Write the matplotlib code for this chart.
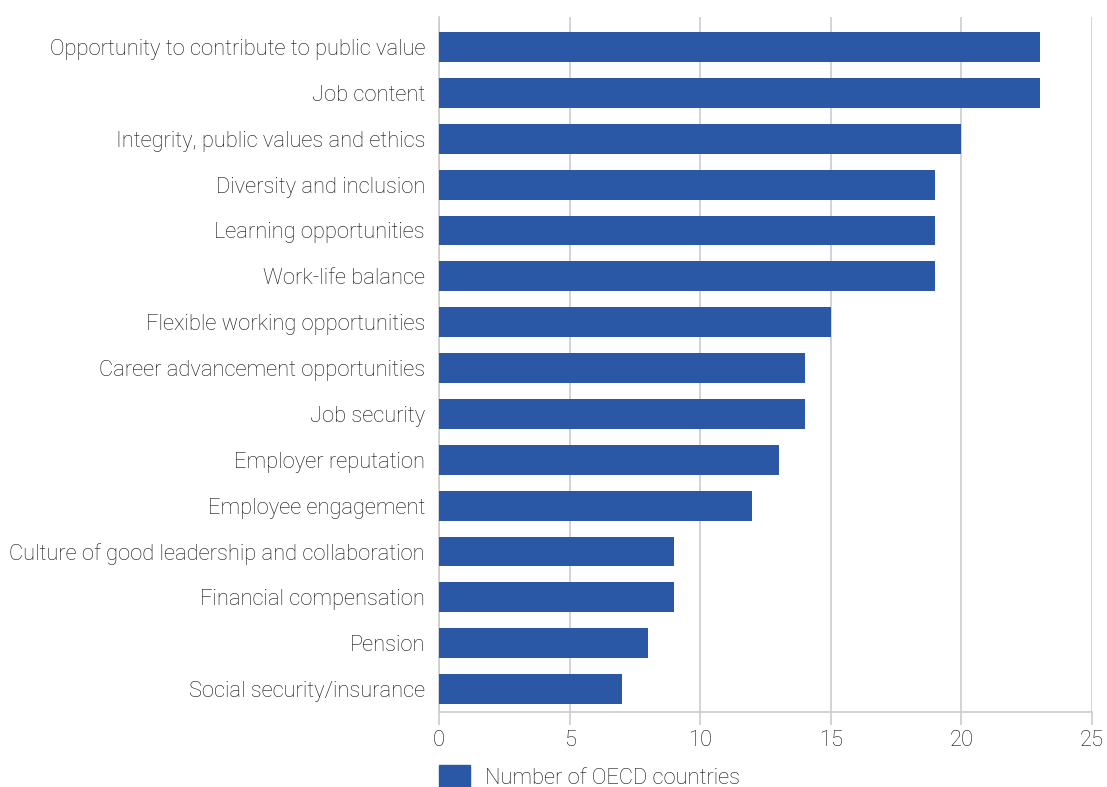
import matplotlib
matplotlib.use("Agg")
import matplotlib.pyplot as plt
from matplotlib.patches import Patch

plt.rcParams["font.family"] = ["Roboto", "DejaVu Sans"]
plt.rcParams["font.weight"] = "light"

categories = [
    "Opportunity to contribute to public value",
    "Job content",
    "Integrity, public values and ethics",
    "Diversity and inclusion",
    "Learning opportunities",
    "Work-life balance",
    "Flexible working opportunities",
    "Career advancement opportunities",
    "Job security",
    "Employer reputation",
    "Employee engagement",
    "Culture of good leadership and collaboration",
    "Financial compensation",
    "Pension",
    "Social security/insurance",
]
values = [23, 23, 20, 19, 19, 19, 15, 14, 14, 13, 12, 9, 9, 8, 7]
series_label = "Number of OECD countries"
x_ticks = [0, 5, 10, 15, 20, 25]

BAR = "#2a58a6"
GRID = "#cccccc"
TXT = "#111111"
FS = 15.75

fig = plt.figure(figsize=(11.07, 7.87), dpi=100)
ax = fig.add_axes([439 / 1107, 1 - 712 / 787, (1092 - 439) / 1107, (712 - 17) / 787])

y = list(range(len(categories)))
ax.barh(y, values, height=0.65, color=BAR, zorder=3)
ax.set_ylim(len(categories) - 0.5, -0.655)
ax.set_xlim(0, 25)

ax.set_yticks(y)
ax.set_yticklabels(categories, fontsize=FS, color=TXT)
ax.set_xticks(x_ticks)
ax.set_xticklabels([str(t) for t in x_ticks], fontsize=FS, color=TXT)
ax.tick_params(axis="y", length=0, pad=10)
ax.tick_params(axis="x", length=9, color=GRID, width=1.2, pad=4)

ax.grid(axis="x", color=GRID, linewidth=1.2, zorder=0)
for s in ["top", "right"]:
    ax.spines[s].set_visible(False)
for s in ["left", "bottom"]:
    ax.spines[s].set_color(GRID)
    ax.spines[s].set_linewidth(1.2)

fig.legend(handles=[Patch(color=BAR, label=series_label)],
           loc="center left", bbox_to_anchor=(439 / 1107, 1 - 777 / 787),
           frameon=False, fontsize=FS, handlelength=1.4, handleheight=1.15,
           handletextpad=0.7, borderpad=0, borderaxespad=0, labelcolor=TXT)

fig.savefig("out.png", dpi=100)
